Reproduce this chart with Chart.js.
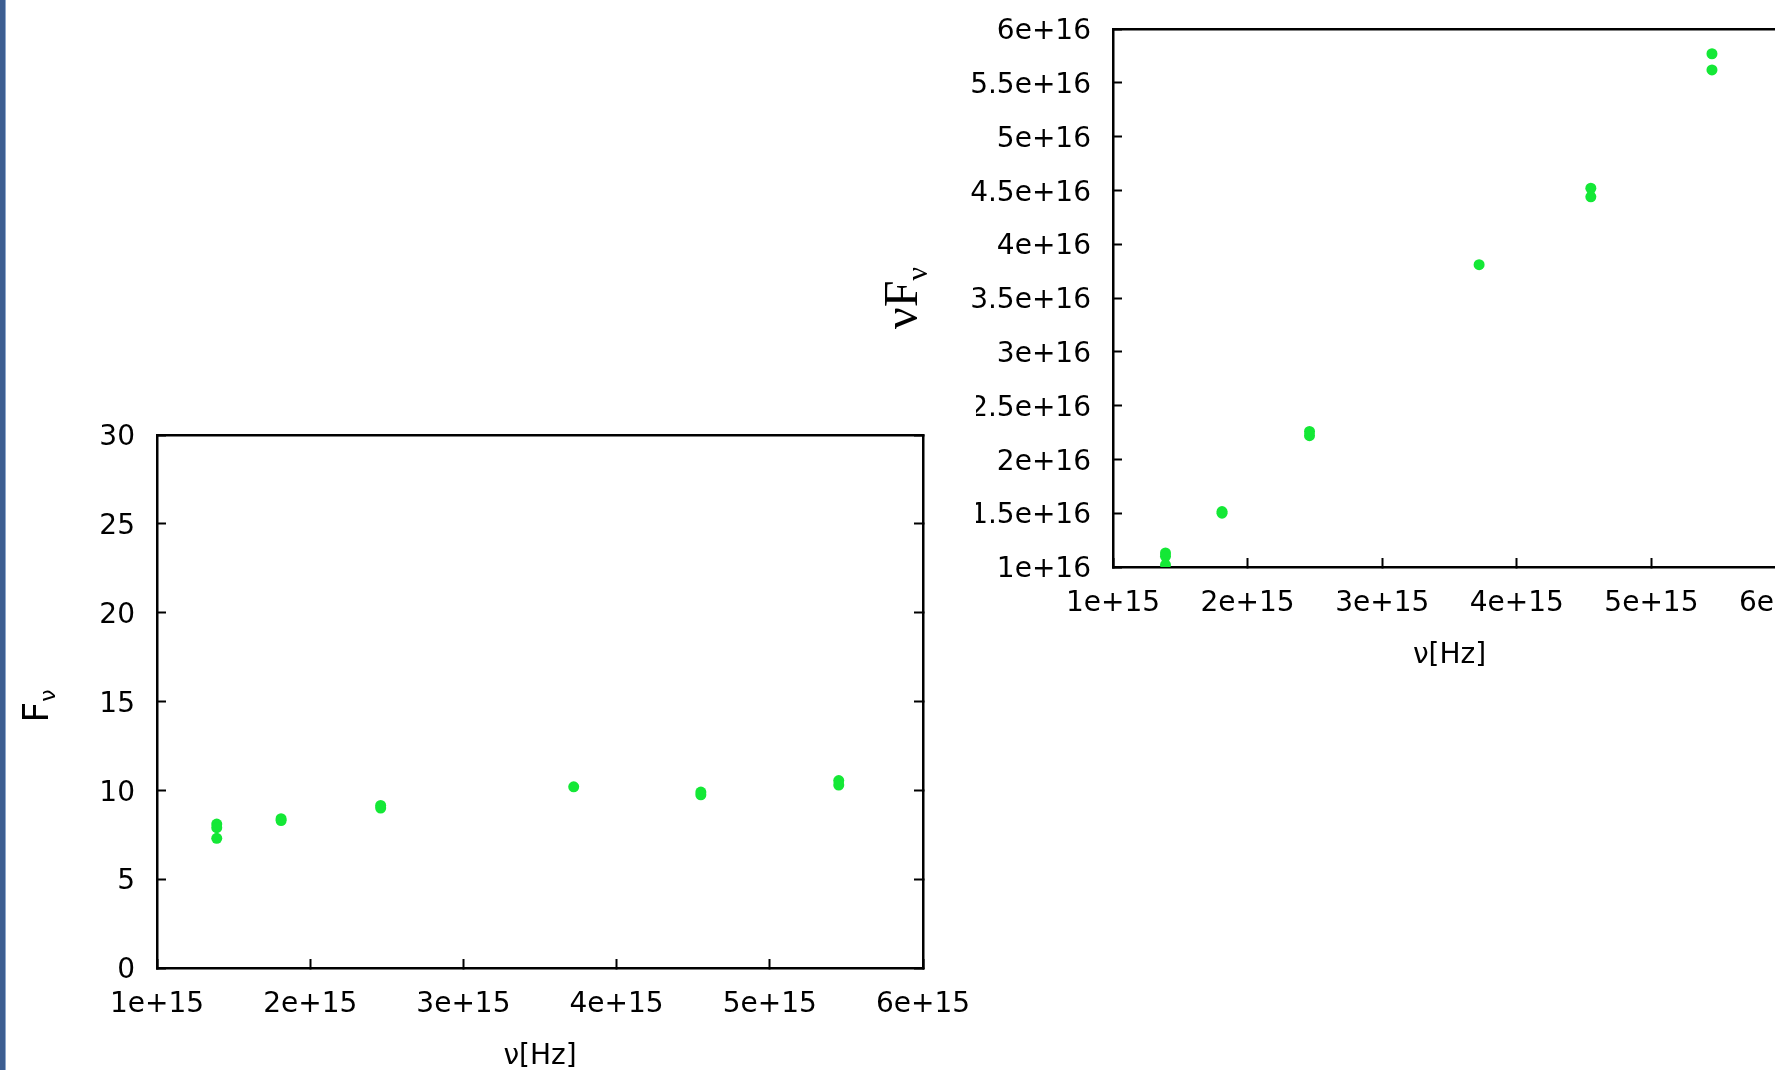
<!DOCTYPE html>
<html>
<head>
<meta charset="utf-8">
<title>F_nu and nu F_nu</title>
<script src="https://cdn.jsdelivr.net/npm/chart.js@4.4.1/dist/chart.umd.min.js"></script>
<style>
  html, body { margin: 0; padding: 0; width: 1775px; height: 1070px; overflow: hidden; background: #fff; }
  .panel { position: absolute; background: #fff; }
  #nuFnuBox { left: 850px; top: 0; width: 1000px; height: 673px; z-index: 1; }
  #fnuBox { left: 5px; top: 385px; width: 971px; height: 689px; z-index: 2; }
  #edge { position: absolute; left: 0; top: 0; width: 5px; height: 1070px; background: #3c5e91; border-right: 1px solid #8ea8cc; z-index: 3; }
</style>
</head>
<body>
<div id="edge"></div>
<div class="panel" id="nuFnuBox"><canvas id="nuFnuChart"></canvas></div>
<div class="panel" id="fnuBox"><canvas id="fnuChart"></canvas></div>

<script>
// measured photometry: frequency, flux density and nu*F_nu
const nuFreq   = [1.39e15, 1.39e15, 1.39e15, 1.81e15, 1.81e15, 2.46e15, 2.46e15, 3.72e15, 4.55e15, 4.55e15, 5.45e15, 5.45e15];
const fluxNu   = [8.1, 7.9, 7.3, 8.4, 8.3, 9.15, 9.0, 10.2, 9.9, 9.75, 10.55, 10.3];
const nuFluxNu = [1.13e16, 1.10e16, 1.02e16, 1.515e16, 1.50e16, 2.26e16, 2.22e16, 3.81e16, 4.52e16, 4.44e16, 5.77e16, 5.62e16];

const xTickLabels      = ['1e+15', '2e+15', '3e+15', '4e+15', '5e+15', '6e+15'];
const fluxTickLabels   = ['0', '5', '10', '15', '20', '25', '30'];
const nuFluxTickLabels = ['1e+16', '1.5e+16', '2e+16', '2.5e+16', '3e+16', '3.5e+16', '4e+16', '4.5e+16', '5e+16', '5.5e+16', '6e+16'];

const GREEN = '#14e836';
const TICK = -9; // negative length -> tick marks point into the plot, like gnuplot

Chart.defaults.font.family = 'DejaVu Sans';
Chart.defaults.color = '#000';

// rotated y title with a subscript, drawn next to the left axis
function yTitle(parts, x, shift) {
    return {
        id: 'yTitle',
        afterDraw(chart) {
            const ctx = chart.ctx;
            const area = chart.chartArea;
            ctx.save();
            ctx.fillStyle = '#000';
            ctx.translate(x, (area.top + area.bottom) / 2 + shift);
            ctx.rotate(-Math.PI / 2);
            ctx.textAlign = 'left';
            ctx.textBaseline = 'alphabetic';
            let w = 0;
            parts.forEach(p => { ctx.font = p.font; w += ctx.measureText(p.text).width; });
            let pos = -w / 2;
            parts.forEach(p => {
                ctx.font = p.font;
                ctx.fillText(p.text, pos, p.drop || 0);
                pos += ctx.measureText(p.text).width;
            });
            ctx.restore();
        }
    };
}

// fixed box sizes; label overhang is already covered by the neighbouring boxes
function fixHorizontal(size) {
    return s => { s.height = size; s.paddingLeft = 0; s.paddingRight = 0; };
}
function fixVertical(size) {
    return s => { s.width = size; s.paddingTop = 0; s.paddingBottom = 0; };
}

function plainAxis(axis, position, min, max, step, size, mirrorTicks) {
    return {
        type: 'linear', axis: axis, position: position, min: min, max: max,
        afterFit: axis === 'x' ? fixHorizontal(size) : fixVertical(size),
        border: { display: true, color: '#000', width: 2.5 },
        grid: { drawOnChartArea: false, drawTicks: mirrorTicks, tickLength: TICK, tickColor: '#000', tickWidth: 2 },
        ticks: { display: false, stepSize: step }
    };
}

function scatterChart(id, cfg) {
    return new Chart(document.getElementById(id), {
        type: 'scatter',
        data: {
            datasets: [{
                data: cfg.xs.map((v, i) => ({ x: v, y: cfg.ys[i] })),
                backgroundColor: GREEN,
                borderWidth: 0,
                pointRadius: 5.5,
                pointHoverRadius: 5.5
            }]
        },
        options: {
            responsive: true,
            maintainAspectRatio: false,
            animation: false,
            events: [],
            layout: { padding: 0 },
            plugins: { legend: { display: false }, tooltip: { enabled: false } },
            scales: {
                x: {
                    type: 'linear', position: 'bottom', min: 1e15, max: 6e15,
                    afterFit: fixHorizontal(cfg.bottom),
                    border: { display: true, color: '#000', width: 2.5 },
                    grid: { drawOnChartArea: false, drawTicks: true, tickLength: TICK, tickColor: '#000', tickWidth: 2 },
                    ticks: {
                        stepSize: 1e15, autoSkip: false, maxRotation: 0, padding: 29,
                        font: { size: 28 },
                        callback: (v, i) => xTickLabels[i]
                    },
                    title: { display: true, text: 'ν[Hz]', font: { size: 28 }, padding: { top: 0, bottom: 0 } }
                },
                y: {
                    type: 'linear', position: 'left', min: cfg.yMin, max: cfg.yMax,
                    afterFit: fixVertical(cfg.left),
                    border: { display: true, color: '#000', width: 2.5 },
                    grid: { drawOnChartArea: false, drawTicks: true, tickLength: TICK, tickColor: '#000', tickWidth: 2 },
                    ticks: {
                        stepSize: cfg.yStep, autoSkip: false, padding: 31, labelOffset: 3,
                        font: { size: 28 },
                        callback: (v, i) => cfg.yLabels[i]
                    }
                },
                x2: plainAxis('x', 'top', 1e15, 6e15, 1e15, cfg.top, false),
                y2: plainAxis('y', 'right', cfg.yMin, cfg.yMax, cfg.yStep, cfg.right, true)
            }
        },
        plugins: [yTitle(cfg.title, cfg.titleX, cfg.titleShift)]
    });
}

// nu F_nu versus frequency (upper right)
scatterChart('nuFnuChart', {
    xs: nuFreq, ys: nuFluxNu,
    yMin: 1e16, yMax: 6e16, yStep: 5e15, yLabels: nuFluxTickLabels,
    left: 263, right: 64, top: 29, bottom: 106,
    title: [
        { text: 'ν', font: '48px "Liberation Serif"' },
        { text: 'F', font: '48px "Liberation Serif"' },
        { text: 'ν', font: '30px "Liberation Serif"', drop: 10 }
    ],
    titleX: 67, titleShift: 0
});

// F_nu versus frequency (lower left)
scatterChart('fnuChart', {
    xs: nuFreq, ys: fluxNu,
    yMin: 0, yMax: 30, yStep: 5, yLabels: fluxTickLabels,
    left: 152, right: 53, top: 50, bottom: 106,
    title: [
        { text: 'F', font: '36px "DejaVu Sans"' },
        { text: 'ν', font: '22px "DejaVu Sans"', drop: 7 }
    ],
    titleX: 43, titleShift: 4.5
});
</script>
</body>
</html>
